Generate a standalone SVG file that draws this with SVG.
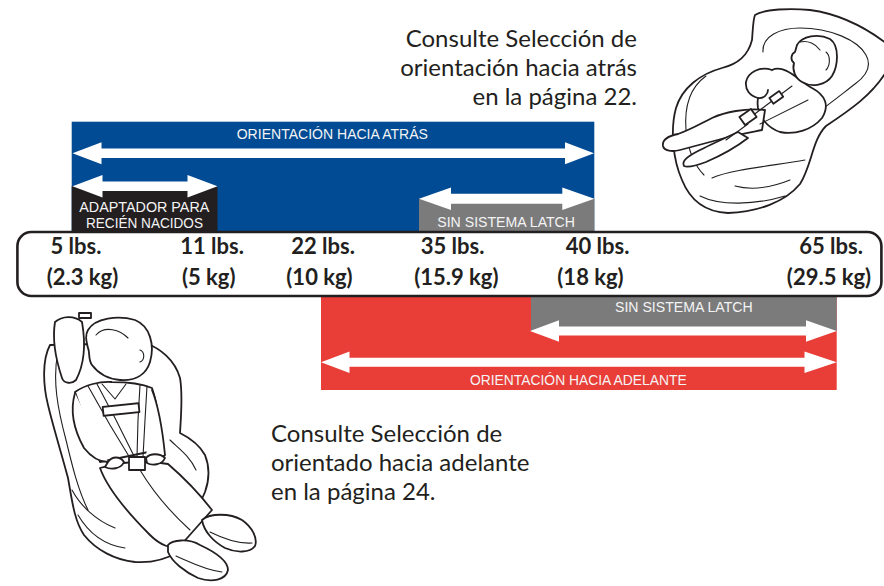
<svg xmlns="http://www.w3.org/2000/svg" width="884" height="586" viewBox="0 0 884 586">
<style>
.blue{fill:#004b93}
.black{fill:#231f20}
.grey{fill:#7b7b7c}
.red{fill:#e93d37}
.arrow{fill:#ffffff}
.lbl{font-family:"Liberation Sans",Arial,sans-serif;font-size:14px;fill:#f4f4f4}
.w{font-family:Lato,"Liberation Sans",sans-serif;font-weight:bold;font-size:22px;fill:#231f20;text-anchor:middle}
.note{font-family:Lato,"Liberation Sans",sans-serif;font-size:24px;fill:#231f20}
.ink{fill:#ffffff;stroke:#231f20;stroke-width:1.8;stroke-linejoin:round;stroke-linecap:round}
.thin{fill:none;stroke:#231f20;stroke-width:1.1;stroke-linejoin:round;stroke-linecap:round}
.box{fill:#ffffff;stroke:#231f20;stroke-width:2.6}
</style>

<g id="rear-facing-note">
<text class="note" text-anchor="end" x="637" y="47">Consulte Selección de</text>
<text class="note" text-anchor="end" x="637" y="76">orientación hacia atrás</text>
<text class="note" text-anchor="end" x="637" y="105">en la página 22.</text>
</g>

<g id="forward-facing-note">
<text class="note" x="271" y="442">Consulte Selección de</text>
<text class="note" x="271" y="471">orientado hacia adelante</text>
<text class="note" x="271" y="500">en la página 24.</text>
</g>

<g id="rear-facing-band">
<rect class="blue" x="71.7" y="121.7" width="522.6" height="110.5"/>
<text class="lbl" x="236.7" y="139" font-size="15" textLength="191.3" lengthAdjust="spacingAndGlyphs">ORIENTACIÓN HACIA ATRÁS</text>
</g>

<g id="newborn-adapter-band">
<rect class="black" x="71.7" y="186.3" width="145.8" height="46"/>
<text class="lbl" x="79.3" y="211.7" textLength="130" lengthAdjust="spacingAndGlyphs">ADAPTADOR PARA</text>
<text class="lbl" x="86" y="227.7" textLength="117" lengthAdjust="spacingAndGlyphs">RECIÉN NACIDOS</text>
</g>

<g id="rear-no-latch-band">
<rect class="grey" x="419" y="198.7" width="175.3" height="33.5"/>
<text class="lbl" x="437.3" y="226.7" textLength="137.7" lengthAdjust="spacingAndGlyphs">SIN SISTEMA LATCH</text>
</g>

<g id="forward-facing-band">
<rect class="red" x="321" y="297" width="515.7" height="93"/>
<text class="lbl" x="470" y="385" font-size="14.5" textLength="216.7" lengthAdjust="spacingAndGlyphs">ORIENTACIÓN HACIA ADELANTE</text>
</g>

<g id="forward-no-latch-band">
<rect class="grey" x="531" y="297" width="305.7" height="34"/>
<text class="lbl" x="615" y="311.7" textLength="137.7" lengthAdjust="spacingAndGlyphs">SIN SISTEMA LATCH</text>
</g>

<g id="connectors">
<polygon class="arrow" points="72.5,153.3 101.5,142.3 101.5,148.6 565,148.6 565,142.3 594,153.3 565,164.3 565,158 101.5,158 101.5,164.3"/>
<polygon class="arrow" points="72.5,186.3 102.5,175 102.5,181.6 187.5,181.6 187.5,175 217.5,186.3 187.5,197.6 187.5,191 102.5,191 102.5,197.6"/>
<polygon class="arrow" points="419,198.7 451,187.4 451,193.7 562.3,193.7 562.3,187.4 594.3,198.7 562.3,210 562.3,203.7 451,203.7 451,210"/>
<polygon class="arrow" points="530,331 559,320.2 559,326.5 806,326.5 806,320.2 836.7,331 806,341.8 806,335.5 559,335.5 559,341.8"/>
<polygon class="arrow" points="321,362.3 349.5,351.5 349.5,357.8 804.5,357.8 804.5,351.5 836.7,362.3 804.5,373.1 804.5,366.8 349.5,366.8 349.5,373.1"/>
</g>

<g id="weight-scale">
<rect class="box" x="17.4" y="232" width="864" height="64" rx="14"/>
<text class="w" x="76" y="254">5 lbs.</text>
<text class="w" x="82.5" y="285">(2.3 kg)</text>
<text class="w" x="212" y="254">11 lbs.</text>
<text class="w" x="208.7" y="285">(5 kg)</text>
<text class="w" x="323" y="254">22 lbs.</text>
<text class="w" x="319.5" y="285">(10 kg)</text>
<text class="w" x="452.5" y="254">35 lbs.</text>
<text class="w" x="456.3" y="285">(15.9 kg)</text>
<text class="w" x="597.5" y="254">40 lbs.</text>
<text class="w" x="590.5" y="285">(18 kg)</text>
<text class="w" x="831" y="254">65 lbs.</text>
<text class="w" x="829" y="285">(29.5 kg)</text>
</g>

<g id="infant-seat">
<path class="ink" stroke-width="2.2" d="M755,15 C765,9 790,8 810,10 C840,14 866,28 886,43 L886,72 C872,95 850,110 826,126 C812,140 812,165 800,184 C785,202 758,212 728,213 C705,212 690,200 682,180 C673,160 670,130 676,108 C682,88 700,74 722,68 C738,64 748,56 752,40 C753,28 753,20 755,15 Z"/>
<path class="thin" d="M706,76 C692,86 684,104 686,130 C688,150 694,165 704,175"/>
<path class="thin" d="M763,52 C762,36 780,28 800,28 C830,28 858,40 866,55 C872,66 866,76 855,84 C842,94 830,104 818,112"/>
<path class="thin" d="M712,178 C730,170 770,166 805,160"/>
<path class="thin" d="M700,196 C720,206 755,205 785,196"/>
<path class="thin" d="M735,186 C750,190 770,188 790,180"/>
<path class="ink" d="M772,70 C785,64 798,80 812,88 C825,95 830,105 822,118 C812,130 795,135 780,132 C768,128 760,118 758,108 C756,95 762,76 772,70 Z"/>
<path class="ink" d="M765,110 C745,108 725,112 712,118 C700,124 690,130 678,134 C668,136 662,140 663,146 C664,151 672,152 680,150 C695,146 710,142 725,138 C740,134 752,132 762,130 Z"/>
<path class="ink" d="M748,138 C735,148 720,156 706,162 C698,165 688,168 684,166 C681,161 688,156 700,150 C712,144 725,138 738,132 Z"/>
<path class="ink" d="M772,70 C760,66 748,72 746,82 C745,90 750,96 758,98 C764,99 768,94 768,90"/>
<path class="ink" d="M797,45 C802,36 818,33 830,39 C840,46 838,66 832,76 C826,85 812,88 802,82 C795,78 792,70 794,63 C790,60 791,54 795,52 Z"/>
<path class="thin" d="M826,52 C831,56 830,66 826,70"/>
<path class="thin" d="M800,42 C808,40 816,44 820,50"/>
<path class="thin" d="M792,86 L752,116 M808,100 L760,124 M748,124 L726,140"/>
<rect class="ink" x="741" y="112" width="14" height="10" transform="rotate(-35 748 117)"/>
<rect class="ink" x="770" y="94" width="12" height="7" transform="rotate(-35 776 97)"/>
</g>

<g id="convertible-seat">
<path class="ink" stroke-width="2.2" d="M50,345 C42,360 43,385 48,405 C54,430 62,455 68,478 C72,500 74,520 84,535 C96,550 115,560 135,562 C150,563 165,560 178,552 L205,492 C210,478 209,465 205,455 C200,446 190,438 180,433 C181,415 183,395 180,378 C175,360 160,348 145,343 Z"/>
<path class="thin" d="M58,352 C52,380 58,410 66,440 C72,465 78,490 88,510"/>
<path class="thin" d="M72,490 C80,505 95,520 115,528"/>
<path class="thin" d="M78,515 C88,532 104,545 125,548"/>
<path class="thin" d="M170,440 C178,448 190,456 196,470"/>
<path class="ink" d="M55,322 C62,316 74,315 82,322 C86,345 84,365 76,380 C72,384 64,384 62,378 C56,360 52,340 55,322 Z"/>
<rect class="ink" x="79" y="313" width="12" height="5"/>
<path class="ink" d="M75,392 C85,385 100,381 112,382 C128,382 140,383 152,388 C158,405 160,425 158,450 L100,462 C92,440 82,412 75,392 Z"/>
<path class="ink" d="M88,330 C95,318 118,315 135,320 C150,326 155,345 150,362 C146,375 135,381 120,380 C108,379 98,373 92,365 C88,360 90,352 88,348 C86,340 85,335 88,330 Z"/>
<path class="thin" d="M96,335 C105,325 120,330 128,338"/>
<path class="thin" d="M140,350 C145,352 145,360 140,362"/>
<path class="thin" d="M102,384 L115,399 L126,384"/>
<path class="thin" d="M88,386 L110,425 L130,458 M97,384 L116,420 L134,456 M140,385 L138,420 L137,457 M147,386 L145,420 L143,457"/>
<rect class="ink" x="103" y="405" width="36" height="9" transform="rotate(-6 121 409)"/>
<path class="ink" d="M75,393 C70,410 74,430 84,448 C92,458 100,462 108,462"/>
<path class="ink" d="M152,390 C160,410 163,435 165,455 C158,462 150,462 146,458"/>
<path class="ink" d="M100,468 C108,490 130,515 150,535 C160,545 172,550 180,546 L212,510 C198,492 182,476 168,464 C145,460 120,462 100,468 Z"/>
<path class="thin" d="M140,470 C152,490 168,510 190,530"/>
<path class="ink" d="M108,462 C112,456 120,456 124,462 C121,469 111,470 105,467 Z"/>
<path class="ink" d="M146,458 C150,453 160,453 165,458 C162,465 152,466 147,463 Z"/>
<rect class="ink" x="129" y="457" width="16" height="13"/>
<path class="ink" d="M168,545 C172,540 188,538 200,545 C215,552 228,560 228,570 C226,580 212,583 198,578 C185,572 172,562 168,552 Z"/>
<path class="ink" d="M202,520 C210,513 230,513 242,520 C252,527 258,538 255,546 C250,553 236,553 225,548 C214,542 204,532 202,520 Z"/>
<path class="thin" d="M176,556 C190,562 205,570 222,572 M210,532 C222,538 238,544 252,543"/>
</g>
</svg>
